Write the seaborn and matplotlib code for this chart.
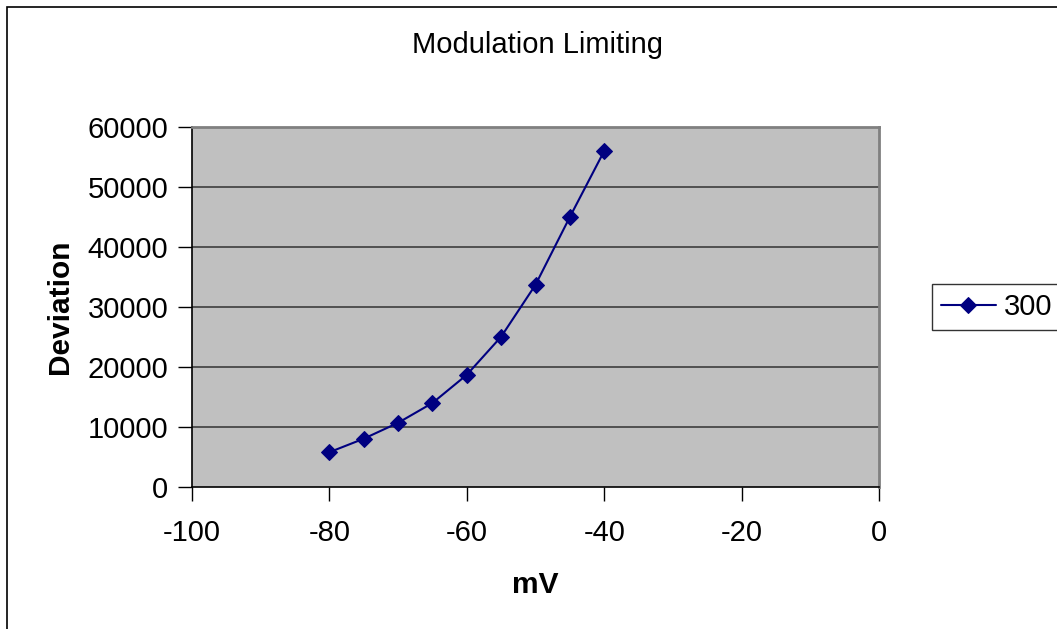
import matplotlib
matplotlib.use("Agg")
import matplotlib.pyplot as plt
import seaborn as sns
import pandas as pd
from matplotlib.patches import Rectangle

# values
mv = [-80, -75, -70, -65, -60, -55, -50, -45, -40]
deviation = [5800, 8050, 10700, 14000, 18700, 25050, 33700, 45000, 56000]
series_name = "300"
x_ticks = [-100, -80, -60, -40, -20, 0]
y_ticks = [0, 10000, 20000, 30000, 40000, 50000, 60000]

df = pd.DataFrame({"mV": mv, "Deviation": deviation})

sns.set_style("white")
plt.rcParams["font.family"] = ["Liberation Sans", "DejaVu Sans"]
plt.rcParams["axes.unicode_minus"] = False
plt.rcParams["text.color"] = "black"
plt.rcParams["axes.labelcolor"] = "black"
plt.rcParams["xtick.color"] = "black"
plt.rcParams["ytick.color"] = "black"

fig = plt.figure(figsize=(10.57, 6.29), dpi=100)
ax = fig.add_axes([192 / 1057, 1 - 487 / 629, 687 / 1057, 360 / 629])
ax.set_facecolor("#C0C0C0")

# outer chart frame (cut off at right and bottom like the reference)
fig.patches.append(Rectangle((6.5 / 1057, -0.2), 1.2, 1.2 - 6.5 / 629,
                             transform=fig.transFigure, fill=False,
                             edgecolor="black", linewidth=1.2, zorder=0))

for yv in y_ticks[1:-1]:
    ax.axhline(yv, color="#505050", linewidth=1.4, zorder=1)

sns.lineplot(data=df, x="mV", y="Deviation", ax=ax, color="#000080",
             linewidth=1.5, marker="D", markersize=8.5, markeredgecolor="#000080",
             label=series_name, zorder=3)

ax.set_xlim(-100, 0)
ax.set_ylim(0, 60000)
ax.set_xticks(x_ticks)
ax.set_yticks(y_ticks)
ax.tick_params(axis="both", labelsize=21, length=10, width=1, color="black",
               direction="out", bottom=True, left=True)
ax.tick_params(axis="x", pad=13)
ax.tick_params(axis="y", pad=7)

for side in ["top", "right"]:
    ax.spines[side].set_color("#808080")
    ax.spines[side].set_linewidth(2)
for side in ["left", "bottom"]:
    ax.spines[side].set_color("black")
    ax.spines[side].set_linewidth(1.2)

ax.set_xlabel("mV", fontsize=21.5, fontweight="bold", labelpad=17)
ax.set_ylabel("Deviation", fontsize=21.5, fontweight="bold", labelpad=10)
fig.text(537 / 1057, 1 - 45 / 629, "Modulation Limiting", fontsize=21,
         ha="center", va="center")

leg = ax.legend(loc="center left", bbox_to_anchor=(932 / 1057, 1 - 307 / 629),
                bbox_transform=fig.transFigure, fontsize=21, frameon=True,
                fancybox=False, handlelength=1.9, handletextpad=0.25,
                borderpad=0.3, borderaxespad=0)
leg.get_frame().set_edgecolor("black")
leg.get_frame().set_linewidth(1)

fig.savefig("out.png", dpi=100)
